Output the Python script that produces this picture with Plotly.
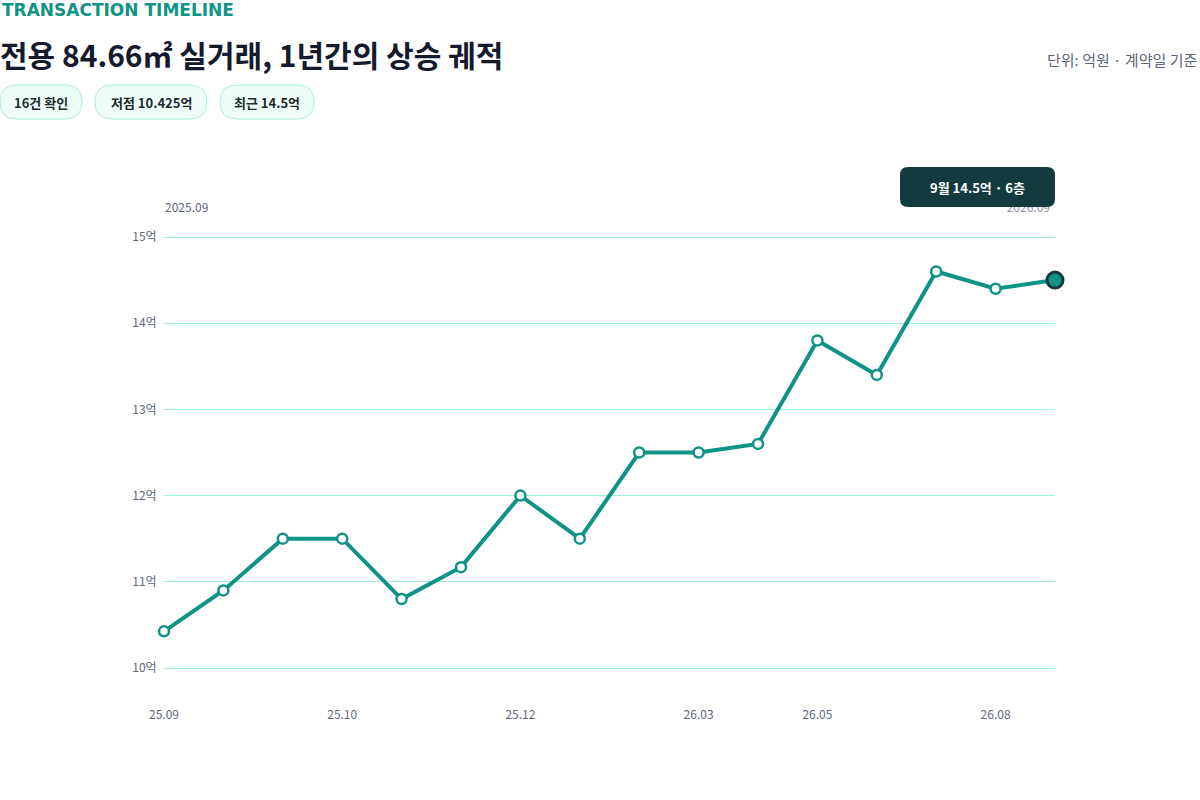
import plotly.graph_objs as go

# 거래 데이터 (억원), 계약 순서대로
prices = [10.425, 10.9, 11.5, 11.5, 10.8, 11.17, 12.0, 11.5, 12.5, 12.5, 12.6, 13.8, 13.4, 14.6, 14.4, 14.5]
tick_idx = [0, 3, 6, 9, 11, 14]
tick_labels = ['25.09', '25.10', '25.12', '26.03', '26.05', '26.08']
y_ticks = [10, 11, 12, 13, 14, 15]
period_start = '2025.09'
period_end = '2026.09'
last_floor = 6
last_month = 9

TEAL = '#0e9384'
DARK = '#133b3e'
GRAY = '#5d6679'
FONT = 'Noto Sans CJK KR'

W, H = 1200, 800
L, R, T, B = 164, 145, 227, 122
PW, PH = W - L - R, H - T - B
pad = 10 * 5 / 431.0

def px(x):
    return (x - L) / PW

def py(y):
    return (H - B - y) / PH

def pill(x0, y0, x1, y1, r):
    # rounded rect path in paper coords from pixel box
    rx, ry = r / PW, r / PH
    a, b, c, d = px(x0), py(y1), px(x1), py(y0)
    return (f'M {a+rx},{b} L {c-rx},{b} Q {c},{b} {c},{b+ry} L {c},{d-ry} Q {c},{d} {c-rx},{d} '
            f'L {a+rx},{d} Q {a},{d} {a},{d-ry} L {a},{b+ry} Q {a},{b} {a+rx},{b} Z')

def label(text, x, y, size, color, xanchor='center', family=FONT):
    return dict(text=text, x=px(x), y=py(y), xref='paper', yref='paper', xanchor=xanchor, yanchor='middle',
                showarrow=False, font=dict(size=size, color=color, family=family))

xs = list(range(len(prices)))

fig = go.Figure()
fig.add_trace(go.Scatter(x=xs, y=prices, mode='lines+markers', line=dict(color=TEAL, width=4),
                         marker=dict(size=10, color='white', line=dict(color=TEAL, width=2.5)),
                         cliponaxis=False, showlegend=False))
fig.add_trace(go.Scatter(x=[xs[-1]], y=[prices[-1]], mode='markers',
                         marker=dict(size=16, color=TEAL, line=dict(color=DARK, width=3)),
                         cliponaxis=False, showlegend=False))

shapes = []
ann = []
chips = [(f'{len(prices)}건 확인', 0, 82), (f'저점 {min(prices)}억', 95, 207), (f'최근 {prices[-1]}억', 220, 314)]
for txt, x0, x1 in chips:
    shapes.append(dict(type='path', xref='paper', yref='paper', path=pill(x0, 85, x1, 119, 17),
                       fillcolor='#effdf9', line=dict(color='#a8f0dd', width=1), layer='above'))
    ann.append(label(f'<b>{txt}</b>', (x0 + x1) / 2, 102, 13, '#1b2a2c'))

# 기간 끝 라벨 (툴팁 박스 아래에 깔림)
shapes.append(dict(type='rect', xref='paper', yref='paper', x0=px(980), x1=px(1056), y0=py(218), y1=py(198),
                   line=dict(width=0), fillcolor='rgba(0,0,0,0)', layer='above',
                   label=dict(text=period_end, textposition='middle right', padding=3,
                              font=dict(size=12, color='#8a93a3', family=FONT))))
shapes.append(dict(type='path', xref='paper', yref='paper', path=pill(900, 167, 1055, 207, 8),
                   fillcolor=DARK, line=dict(width=0), layer='above'))
ann.append(label(f'<b>{last_month}월 {prices[-1]}억 · {last_floor}층</b>', 977, 187, 13, 'white'))

ann.append(label('<b>TRANSACTION TIMELINE</b>', 0, 10, 17, TEAL, 'left', 'DejaVu Sans'))
ann.append(label('<b>전용 84.66㎡ 실거래, 1년간의 상승 궤적</b>', -2, 54, 30, '#151b2d', 'left'))
ann.append(label('단위: 억원 · 계약일 기준', 1199, 60, 15, GRAY, 'right'))
ann.append(label(period_start, 163, 207, 12, GRAY, 'left'))

fig.update_layout(
    width=W, height=H, margin=dict(l=L, r=R, t=T, b=B),
    paper_bgcolor='white', plot_bgcolor='white',
    font=dict(family=FONT, color=GRAY),
    shapes=shapes, annotations=ann, hovermode=False,
    xaxis=dict(range=[0, len(prices) - 1], tickvals=tick_idx, ticktext=tick_labels, showgrid=False,
               zeroline=False, showline=False, ticks='outside', ticklen=26, tickcolor='rgba(0,0,0,0)',
               tickfont=dict(size=12, color=GRAY)),
    yaxis=dict(range=[10 - pad, 15 + pad], tickvals=y_ticks, ticktext=[f'{v}억' for v in y_ticks],
               showgrid=True, gridcolor='#9ef3df', gridwidth=1, zeroline=False, showline=False,
               ticks='outside', ticklen=4, tickcolor='rgba(0,0,0,0)', tickfont=dict(size=12, color=GRAY)),
)

# 페이지 기본 여백 제거
fig.write_html('out.html', config={'displayModeBar': False},
               post_script="document.body.style.margin='0';")
